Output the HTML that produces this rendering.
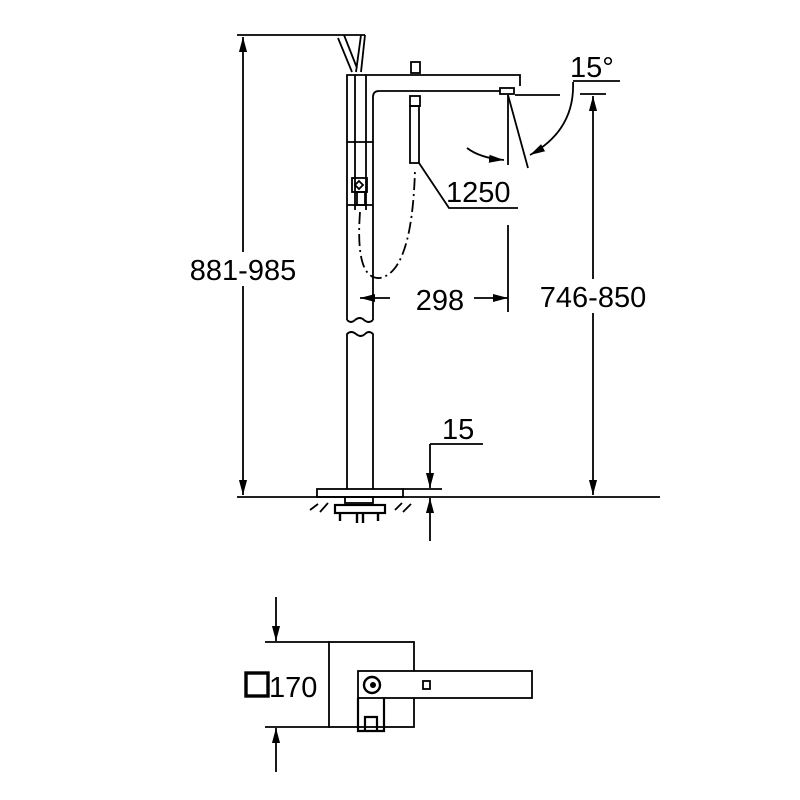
<!DOCTYPE html>
<html><head><style>body{margin:0;background:#fff}svg{display:block}</style></head><body>
<svg width="800" height="800" viewBox="0 0 800 800" xmlns="http://www.w3.org/2000/svg" font-family="Liberation Sans, sans-serif" fill="none" stroke="#000" stroke-width="1.8">
<defs>
<marker id="b" viewBox="0 0 10 10" refX="10" refY="5" markerWidth="15" markerHeight="15" markerUnits="userSpaceOnUse" orient="auto-start-reverse"><path d="M0,2.3L10,5L0,7.7z" fill="#000" stroke="none"/></marker>
</defs>
<!-- left dimension -->
<line x1="237" y1="35" x2="365" y2="35"/>
<line x1="237" y1="497" x2="660" y2="497"/>
<line x1="243" y1="37" x2="243" y2="495" marker-start="url(#b)" marker-end="url(#b)"/>
<rect x="184" y="252" width="120" height="34" fill="#fff" stroke="none"/>
<text x="243" y="280" font-size="29" fill="#000" stroke="none" text-anchor="middle">881-985</text>
<!-- hand shower -->
<path d="M338,38 L352,72 M344,35 L357,68 M361,35 L356,72 M365,35 L361,72"/>
<!-- column upper -->
<path d="M347,320 L347,75 L520,75 L520,86 M373,320 L373,97 Q373,91 379,91 L500,91"/>
<line x1="355" y1="75" x2="355" y2="210"/>
<line x1="366" y1="75" x2="366" y2="210"/>
<line x1="347" y1="142" x2="373" y2="142"/>
<line x1="347" y1="205" x2="373" y2="205"/>
<rect x="352" y="178" width="15" height="14"/>
<rect x="357" y="192" width="8" height="13"/>
<path d="M355,185 l4,-4 l4,4 l-4,4z"/>
<path d="M347,320 q4,4 8,0 q5,-4 9,0 q5,4 9,0"/>
<!-- aerator -->
<rect x="500" y="88" width="14" height="6"/>
<!-- top valve -->
<rect x="411" y="62" width="9" height="11"/>
<!-- hanging handle -->
<rect x="410" y="96" width="10" height="10"/>
<rect x="410" y="106" width="9" height="57"/>
<!-- hose dashed -->
<path d="M360,212 Q355,280 380,278 Q412,272 415,170" stroke-dasharray="12,4,2,4"/>
<!-- 1250 leader -->
<path d="M419,163 L449,208 L518,208"/>
<text x="446" y="202" font-size="29" fill="#000" stroke="none">1250</text>
<!-- angle -->
<line x1="508" y1="95" x2="508" y2="165"/>
<line x1="508" y1="95" x2="528" y2="168"/>
<line x1="515" y1="95" x2="560" y2="95"/>
<path d="M573,82 Q575,130 530,155" marker-end="url(#b)"/>
<path d="M467,148 Q480,158 504,160" marker-end="url(#b)"/>
<line x1="573" y1="81" x2="620" y2="81"/>
<text x="570" y="77" font-size="29" fill="#000" stroke="none">15°</text>
<!-- 298 -->
<line x1="508" y1="225" x2="508" y2="312"/>
<line x1="360" y1="298" x2="390" y2="298" marker-start="url(#b)"/>
<line x1="474" y1="298" x2="508" y2="298" marker-end="url(#b)"/>
<text x="440" y="310" font-size="29" fill="#000" stroke="none" text-anchor="middle">298</text>
<!-- right dim -->
<line x1="580" y1="94" x2="606" y2="94"/>
<line x1="593" y1="96" x2="593" y2="495" marker-start="url(#b)" marker-end="url(#b)"/>
<rect x="531" y="279" width="124" height="34" fill="#fff" stroke="none"/>
<text x="593" y="307" font-size="29" fill="#000" stroke="none" text-anchor="middle">746-850</text>
<!-- lower column -->
<path d="M347,489 L347,334 q4,-4 9,0 q5,4 9,0 q4,-4 8,0 L373,489"/>
<rect x="317" y="489" width="86" height="8"/>
<path d="M310,510 l8,-6 M320,512 l8,-9 M395,510 l7,-7 M403,512 l8,-8"/>
<rect x="345" y="497" width="28" height="6"/>
<rect x="335" y="505" width="50" height="8" stroke-width="2.2"/>
<path d="M340,513 v8 M378,513 v8 M357,513 v10 M363,513 v10" stroke-width="2.4"/>
<!-- 15 dim -->
<line x1="403" y1="489" x2="442" y2="489"/>
<line x1="430" y1="444" x2="483" y2="444"/>
<line x1="430" y1="444" x2="430" y2="488" marker-end="url(#b)"/>
<line x1="430" y1="541" x2="430" y2="498" marker-end="url(#b)"/>
<text x="442" y="439" font-size="29" fill="#000" stroke="none">15</text>
<!-- plan view -->
<line x1="276" y1="597" x2="276" y2="641" marker-end="url(#b)"/>
<line x1="276" y1="772" x2="276" y2="728" marker-end="url(#b)"/>
<line x1="265" y1="642" x2="330" y2="642"/>
<line x1="265" y1="727" x2="330" y2="727"/>
<rect x="329" y="642" width="85" height="85"/>
<rect x="358" y="671" width="174" height="27" fill="#fff"/>
<rect x="423" y="681" width="7" height="8"/>
<circle cx="372" cy="685" r="8" stroke-width="2.4"/>
<circle cx="373" cy="685" r="3" fill="#000" stroke="none"/>
<path d="M358,698 V731 H384 V698 M365,731 V717 H377 V731" stroke-width="2.2"/>
<rect x="246" y="673" width="22" height="23" stroke-width="3.4"/>
<text x="269" y="697" font-size="29" fill="#000" stroke="none">170</text>
</svg>
</body></html>
